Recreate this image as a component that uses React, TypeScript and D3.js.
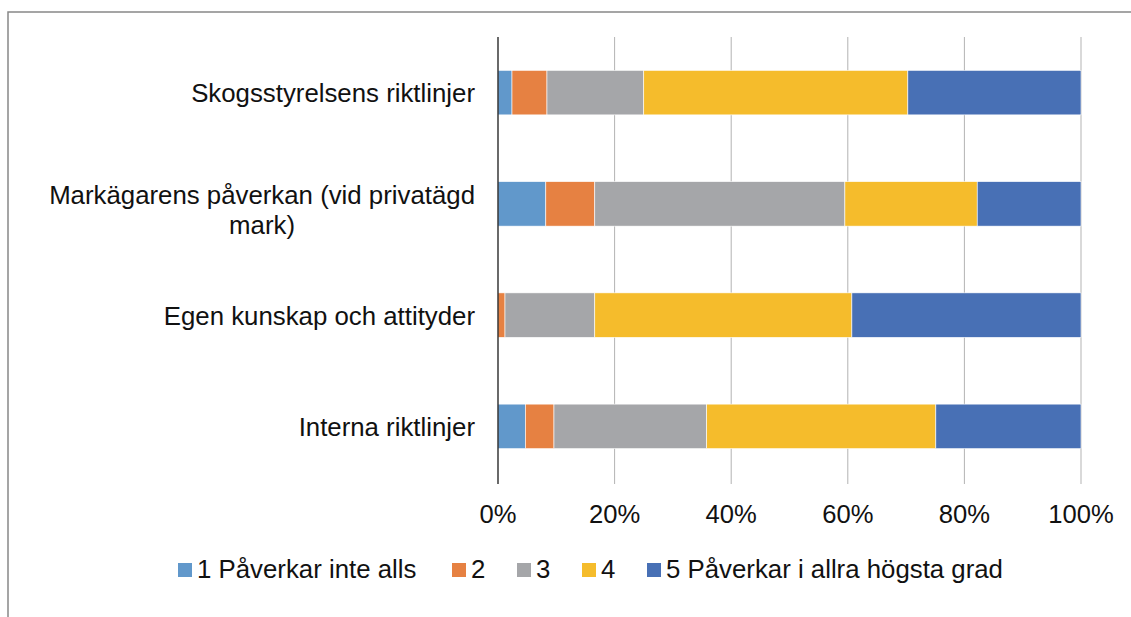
import React, { useEffect, useRef } from "react";
import * as d3 from "d3";

// kategorier uppifrån och ned
const categories = [
  "Skogsstyrelsens riktlinjer",
  "Markägarens påverkan (vid privatägd mark)",
  "Egen kunskap och attityder",
  "Interna riktlinjer",
];

const seriesNames = ["1 Påverkar inte alls", "2", "3", "4", "5 Påverkar i allra högsta grad"];

// andel i procent
const s1 = [2.4, 8.2, 0, 4.7];
const s2 = [6.0, 8.4, 1.2, 4.9];
const s3 = [16.6, 42.9, 15.4, 26.2];
const s4 = [45.3, 22.7, 44.1, 39.3];
const s5 = [29.7, 17.8, 39.3, 24.9];

const tickValues = [0, 20, 40, 60, 80, 100];
const colors = ["#6198cb", "#e68142", "#a5a6a9", "#f5bc2c", "#4870b5"];

const W = 1131;
const H = 617;
const margin = { top: 37, right: 50, bottom: 135, left: 498 };
const font = "'Liberation Sans', Arial, sans-serif";

export default function App() {
  const ref = useRef<SVGSVGElement>(null);

  useEffect(() => {
    const svg = d3.select(ref.current);
    svg.selectAll("*").remove();

    const x = d3.scaleLinear().domain([0, 100]).range([margin.left, 1081]);
    const y = d3
      .scaleBand()
      .domain(categories)
      .range([margin.top, 482])
      .paddingInner(0.6)
      .paddingOuter(0.3);

    const rows = categories.map((c, i) => ({
      cat: c,
      vals: [s1[i], s2[i], s3[i], s4[i], s5[i]],
    }));

    // ram runt diagrammet
    svg
      .append("rect")
      .attr("x", 8)
      .attr("y", 12)
      .attr("width", W)
      .attr("height", H)
      .attr("fill", "#fff")
      .attr("stroke", "#888")
      .attr("stroke-width", 1.5);

    // rutnät
    svg
      .append("g")
      .selectAll("line")
      .data(tickValues.slice(1))
      .join("line")
      .attr("x1", (d) => x(d))
      .attr("x2", (d) => x(d))
      .attr("y1", margin.top)
      .attr("y2", 484)
      .attr("stroke", "#b3b3b3")
      .attr("stroke-width", 1);

    // staplar
    const stacked = rows.map((r) =>
      r.vals.map((v, k) => ({
        cat: r.cat,
        k,
        x0: d3.sum(r.vals.slice(0, k)),
        x1: d3.sum(r.vals.slice(0, k + 1)),
      }))
    );

    svg
      .append("g")
      .selectAll("rect")
      .data(stacked.flat().filter((d) => d.x1 > d.x0))
      .join("rect")
      .attr("x", (d) => x(d.x0))
      .attr("y", (d) => y(d.cat)!)
      .attr("width", (d) => x(d.x1) - x(d.x0))
      .attr("height", y.bandwidth())
      .attr("fill", (d) => colors[d.k])
      .attr("stroke", "#fff")
      .attr("stroke-width", 0.6);

    // y-axel
    svg
      .append("line")
      .attr("x1", x(0))
      .attr("x2", x(0))
      .attr("y1", margin.top)
      .attr("y2", 484)
      .attr("stroke", "#1a1a1a")
      .attr("stroke-width", 1.3);

    // x-etiketter
    svg
      .append("g")
      .selectAll("text")
      .data(tickValues)
      .join("text")
      .attr("x", (d) => x(d))
      .attr("y", 523)
      .attr("text-anchor", "middle")
      .attr("font-family", font)
      .attr("font-size", 25.6)
      .attr("fill", "#111")
      .text((d) => d + "%");

    // kategorietiketter, radbrytning för den långa
    const labels = svg.append("g").attr("font-family", font).attr("font-size", 25.8).attr("fill", "#111");
    categories.forEach((c) => {
      const cy = y(c)! + y.bandwidth() / 2;
      if (c.length > 30) {
        const parts = ["Markägarens påverkan (vid privatägd", "mark)"];
        const t1 = labels.append("text").attr("x", 475).attr("y", cy).attr("text-anchor", "end").text(parts[0]);
        const w1 = (t1.node() as SVGTextElement).getComputedTextLength();
        labels
          .append("text")
          .attr("x", 475 - w1 / 2)
          .attr("y", cy + 30)
          .attr("text-anchor", "middle")
          .text(parts[1]);
      } else {
        labels.append("text").attr("x", 475).attr("y", cy + 9.5).attr("text-anchor", "end").text(c);
      }
    });

    // teckenförklaring
    const legendX = [178, 452, 517, 582, 647];
    const lg = svg.append("g").attr("font-family", font).attr("font-size", 25.8).attr("fill", "#111");
    seriesNames.forEach((n, k) => {
      lg.append("rect").attr("x", legendX[k]).attr("y", 563).attr("width", 14).attr("height", 14).attr("fill", colors[k]);
      lg.append("text").attr("x", legendX[k] + 19).attr("y", 578).text(n);
    });
  }, []);

  return (
    <svg
      ref={ref}
      width={W}
      height={H}
      style={{ position: "absolute", left: 0, top: 0, background: "#fff" }}
    />
  );
}
